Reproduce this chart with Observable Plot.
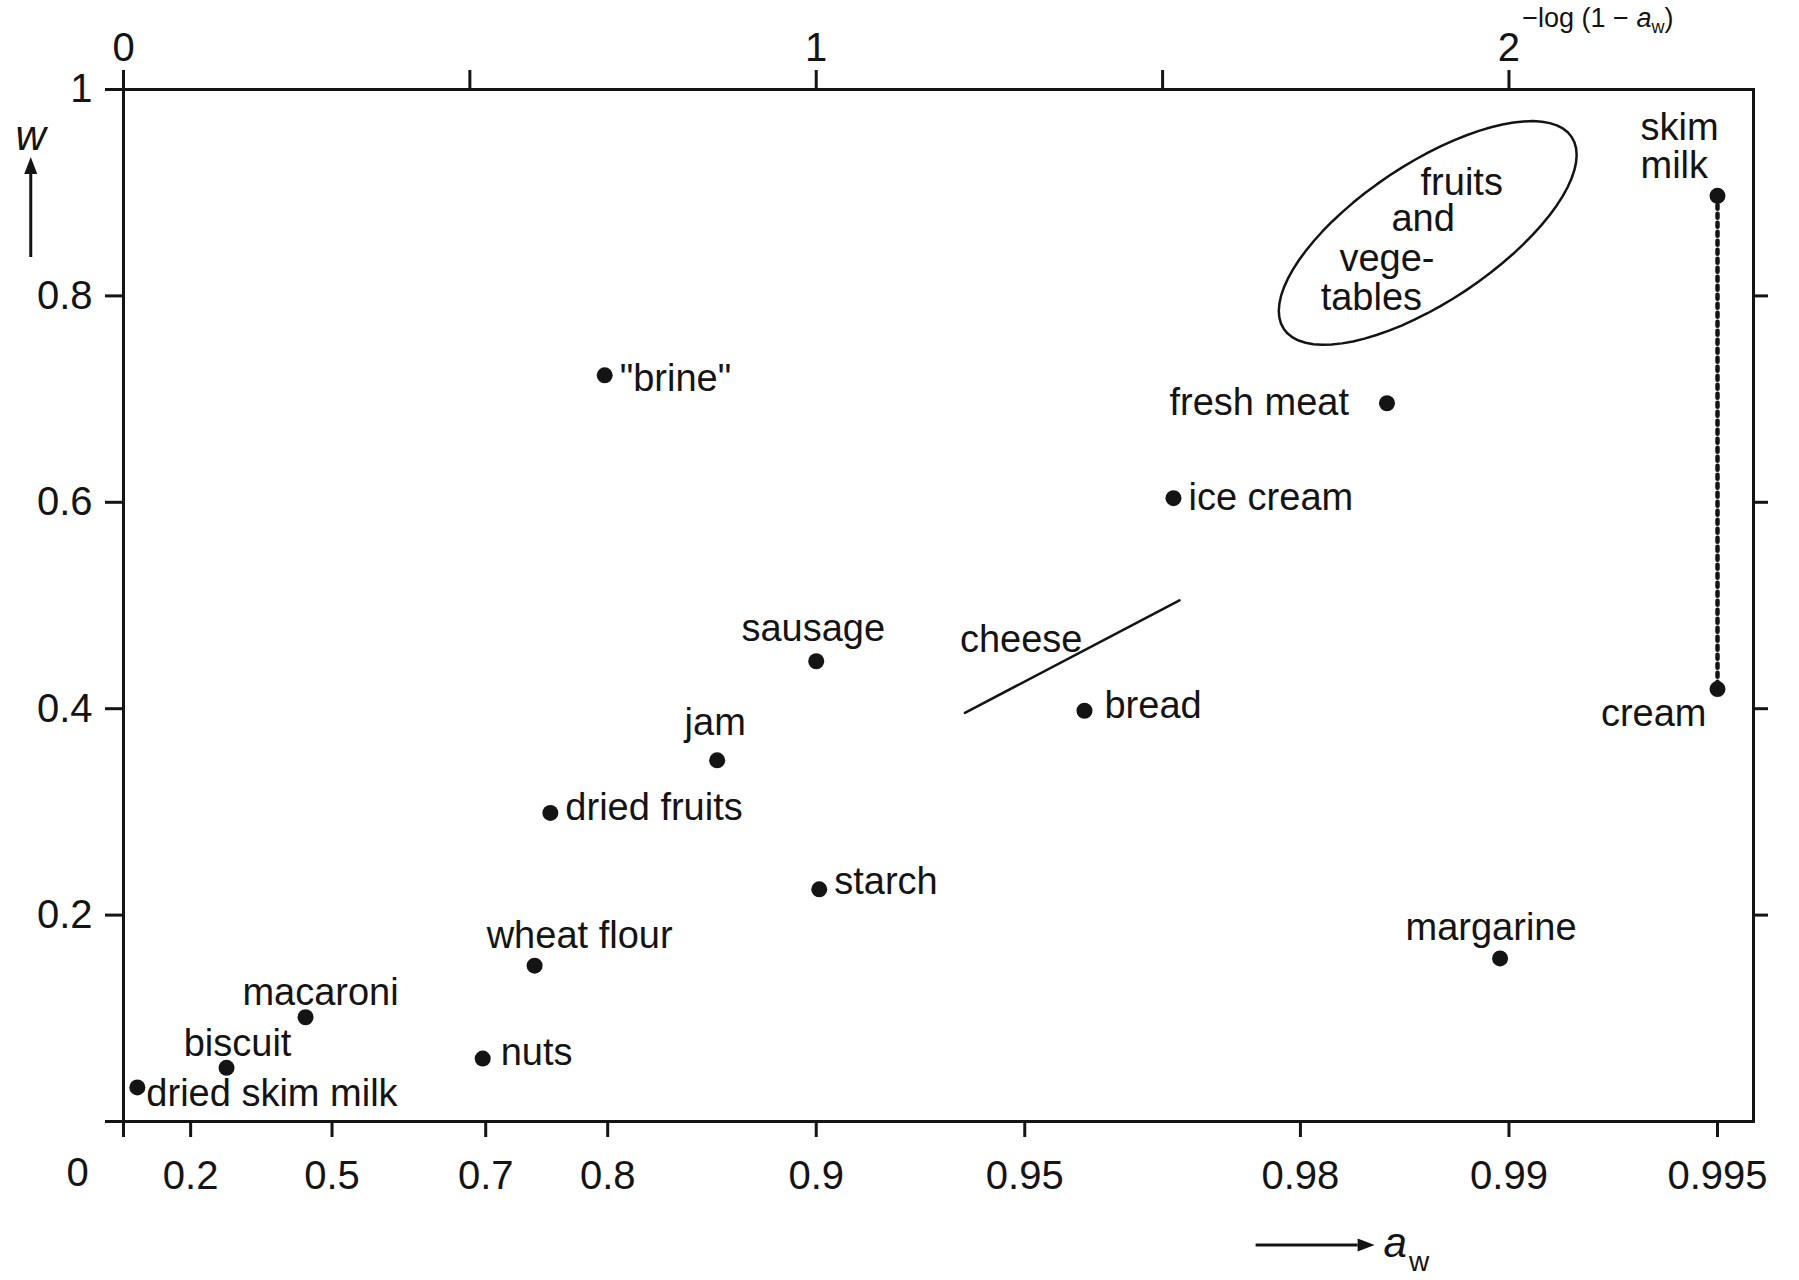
<!DOCTYPE html>
<html><head><meta charset="utf-8">
<script src="https://cdn.jsdelivr.net/npm/d3@7"></script>
<script src="https://cdn.jsdelivr.net/npm/@observablehq/plot@0.6"></script>
<style>
html,body{margin:0;padding:0;background:#fff;}
#chart svg{display:block;}
</style></head><body><div id="chart"></div>
<script>
// ---------------- data ----------------
const foods = ["\"brine\"","fresh meat","ice cream","sausage","bread","cream","skim milk","jam","dried fruits","starch","margarine","wheat flour","macaroni","nuts","biscuit","dried skim milk"];
const aw    = [0.798, 0.985, 0.9695, 0.900, 0.959, 0.995, 0.995, 0.861, 0.758, 0.901, 0.9897, 0.745, 0.454, 0.697, 0.290, 0.045];
const wVal  = [0.723, 0.696, 0.604, 0.446, 0.398, 0.419, 0.897, 0.350, 0.299, 0.225, 0.158, 0.151, 0.101, 0.061, 0.052, 0.033];

const awTicks      = [0, 0.2, 0.5, 0.7, 0.8, 0.9, 0.95, 0.98, 0.99, 0.995];
const awTickLabels = ["0", "0.2", "0.5", "0.7", "0.8", "0.9", "0.95", "0.98", "0.99", "0.995"];
const logTicks      = [0, 0.5, 1, 1.5, 2];
const logTickLabels = ["0", "", "1", "", "2"];
const wTicks      = [0, 0.2, 0.4, 0.6, 0.8, 1];
const wTickLabels = ["", "0.2", "0.4", "0.6", "0.8", "1"];
const wRightTicks = [0.2, 0.4, 0.6, 0.8];

// cheese: a range drawn as a segment
const cheeseAw = [0.939, 0.9701];
const cheeseW  = [0.396, 0.505];
const cheeseLabelAw = 0.9494, cheeseLabelW = 0.467;

// fruits and vegetables: a region
const fvLines = ["fruits", "and", "vege-", "tables"];
const fvAw    = [0.9883, 0.9867, 0.9850, 0.9842];
const fvW     = [0.910, 0.875, 0.836, 0.798];
const fvCenterAw = 0.9869, fvCenterW = 0.861;

// skim milk -> cream (dotted)
const milkAw = [0.995, 0.995];
const milkW  = [0.897, 0.419];

// ---------------- layout ----------------
const W = 1799, H = 1280;
const mL = 123, mR = 46, mT = 89, mB = 159;
const xMax = 2.353;
const INK = "#141414";
const FONT = "'Liberation Sans', Arial, Helvetica, sans-serif";
const L = a => -Math.log10(1 - a);

const data = foods.map((f, i) => ({food: f, x: L(aw[i]), y: wVal[i]}));

const labelLayout = {
  '"brine"':        {anchor: "start",  dx: 15,  dy: [3]},
  "fresh meat":     {anchor: "end",    dx: -38, dy: [0]},
  "ice cream":      {anchor: "start",  dx: 15,  dy: [0]},
  "sausage":        {anchor: "middle", dx: -3,  dy: [-32]},
  "bread":          {anchor: "start",  dx: 20,  dy: [-5]},
  "cream":          {anchor: "end",    dx: -11, dy: [25]},
  "skim milk":      {anchor: "start",  dx: -77, dy: [-68, -30], lines: ["skim", "milk"]},
  "jam":            {anchor: "middle", dx: -2,  dy: [-37]},
  "dried fruits":   {anchor: "start",  dx: 15,  dy: [-5]},
  "starch":         {anchor: "start",  dx: 15,  dy: [-7]},
  "margarine":      {anchor: "middle", dx: -9,  dy: [-31]},
  "wheat flour":    {anchor: "middle", dx: 45,  dy: [-30]},
  "macaroni":       {anchor: "middle", dx: 15,  dy: [-24]},
  "nuts":           {anchor: "start",  dx: 18,  dy: [-6]},
  "biscuit":        {anchor: "middle", dx: 11,  dy: [-24]},
  "dried skim milk":{anchor: "start",  dx: 9,   dy: [6]}
};

// ellipse outline (pixel radii, tilt), converted to data units via the layout
const ell = {rx: 173, ry: 69, tilt: 33.7};
const kx = (W - mL - mR) / xMax, ky = (H - mT - mB);
const th = ell.tilt * Math.PI / 180;
const ellPts = d3.range(0, 73).map(k => {
  const t = k / 72 * 2 * Math.PI;
  const px = ell.rx * Math.cos(t) * Math.cos(th) - ell.ry * Math.sin(t) * Math.sin(th);
  const py = ell.rx * Math.cos(t) * Math.sin(th) + ell.ry * Math.sin(t) * Math.cos(th);
  return {x: L(fvCenterAw) + px / kx, y: fvCenterW + py / ky};
});

const labelMarks = data.flatMap(d => {
  const o = labelLayout[d.food];
  const lines = o.lines ?? [d.food];
  return lines.map((s, j) => Plot.text([d], {x: "x", y: "y", text: () => s, textAnchor: o.anchor,
    dx: o.dx, dy: o.dy[j], fontSize: 38, fill: INK}));
});

const plot = Plot.plot({
  width: W, height: H,
  marginLeft: mL, marginRight: mR, marginTop: mT, marginBottom: mB,
  style: {fontFamily: FONT, fontSize: "40px", color: INK, background: "#fff", overflow: "visible"},
  x: {domain: [0, xMax], label: null},
  y: {domain: [0, 1], label: null},
  marks: [
    Plot.axisX(awTicks.map(L), {anchor: "bottom", tickSize: 16, tickPadding: 23, strokeWidth: 3,
      tickFormat: (d) => { const i = awTicks.findIndex(a => Math.abs(L(a) - d) < 1e-9); return i > 0 ? awTickLabels[i] : ""; }, fontSize: 40}),
    Plot.axisX(logTicks, {anchor: "top", tickSize: 20, tickPadding: 9, strokeWidth: 3,
      tickFormat: d => logTickLabels[logTicks.indexOf(d)], fontSize: 40}),
    Plot.axisY(wTicks, {anchor: "left", tickSize: 18, tickPadding: 13, strokeWidth: 3,
      tickFormat: d => wTickLabels[wTicks.indexOf(d)], fontSize: 40}),
    Plot.axisY(wRightTicks, {anchor: "right", tickSize: 14, strokeWidth: 3, tickFormat: () => ""}),
    Plot.frame({stroke: INK, strokeWidth: 3}),
    Plot.text([{x: 0, y: 0}], {x: "x", y: "y", text: () => awTickLabels[0], dx: -46, dy: 52, fontSize: 40, fill: INK}),
    Plot.line(milkAw.map((a, i) => ({x: L(a), y: milkW[i]})), {x: "x", y: "y", stroke: INK, strokeWidth: 4.5, strokeDasharray: "4,5"}),
    Plot.line(cheeseAw.map((a, i) => ({x: L(a), y: cheeseW[i]})), {x: "x", y: "y", stroke: INK, strokeWidth: 2.5}),
    Plot.text([{x: L(cheeseLabelAw), y: cheeseLabelW}], {x: "x", y: "y", text: () => "cheese", fontSize: 38, fill: INK}),
    Plot.line(ellPts, {x: "x", y: "y", curve: "linear-closed", stroke: INK, strokeWidth: 2.5}),
    Plot.text(fvLines.map((t, i) => ({t, x: L(fvAw[i]), y: fvW[i]})), {x: "x", y: "y", text: "t", fontSize: 38, fill: INK}),
    Plot.dot(data, {x: "x", y: "y", r: 8, fill: INK}),
    ...labelMarks
  ]
});
document.getElementById("chart").appendChild(plot);

// ---------------- axis titles (arrows, italic a_w / w) ----------------
const svg = d3.select(plot);
const g = svg.append("g").attr("fill", INK).attr("font-family", FONT).attr("text-anchor", "start");
function arrow(x1, y1, x2, y2) {
  const ang = Math.atan2(y2 - y1, x2 - x1), hl = 17, hw = 6.5;
  const bx = x2 - hl * Math.cos(ang), by = y2 - hl * Math.sin(ang);
  g.append("line").attr("x1", x1).attr("y1", y1).attr("x2", bx).attr("y2", by)
    .attr("stroke", INK).attr("stroke-width", 3);
  g.append("polygon").attr("points", [
    [x2, y2],
    [bx - hw * Math.sin(ang), by + hw * Math.cos(ang)],
    [bx + hw * Math.sin(ang), by - hw * Math.cos(ang)]].map(p => p.join(",")).join(" "));
}
// y title: up arrow and w, left of the axis
const yTx = mL * 0.25;
arrow(yTx, mT + 168, yTx, mT + 68);
g.append("text").attr("x", yTx).attr("y", mT + 61).attr("text-anchor", "middle")
  .attr("font-size", 42).attr("font-style", "italic").text("w");
// x title (bottom): arrow then a_w
const bY = H - mB + 124;
const bX = mL + kx * 1.635;
arrow(bX, bY, bX + 119, bY);
const t1 = g.append("text").attr("x", bX + 128).attr("y", bY + 12).attr("font-size", 42).attr("text-anchor", "start");
t1.append("tspan").attr("font-style", "italic").text("a");
t1.append("tspan").attr("font-size", 28).attr("dx", 2).attr("dy", 14).text("w");
// x title (top): −log(1−a_w), just right of the "2" tick label, in the strip above the frame
const tX = mL + kx * 2.02;
const t2 = g.append("text").attr("x", tX).attr("y", 27).attr("font-size", 27).attr("text-anchor", "start");
t2.append("tspan").text("\u2212log (1 \u2212 ");
t2.append("tspan").attr("font-style", "italic").text("a");
t2.append("tspan").attr("font-size", 18).attr("dy", 6).text("w");
t2.append("tspan").attr("dy", -6).text(")");
</script></body></html>
